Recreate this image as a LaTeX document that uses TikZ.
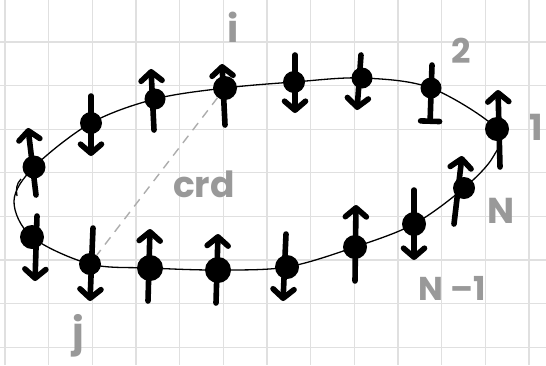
\documentclass[tikz,border=0pt]{standalone}
\usepackage{fontspec}
\newfontfamily\mainlevee{Poppins}
\usetikzlibrary{arrows.meta}

\begin{document}
\begin{tikzpicture}[x=1bp,y=-1bp]

% Couleurs
\definecolor{grille}{gray}{0.88}
\definecolor{grisT}{gray}{0.60}
\definecolor{grisP}{gray}{0.68}

\tikzset{
  spinfleche/.style={line width=5.6bp, line cap=round, line join=round,
    -{Straight Barb[length=9bp,width=21bp,line cap=round,line join=round]}},
  spinbarre/.style={line width=5.6bp, line cap=round,
    -{Bar[width=19bp,line cap=round]}},
  spindot/.style={circle, fill=black, inner sep=0pt, minimum size=#1},
  courbe/.style={black, line width=1.3bp},
  corde/.style={grisP, line width=1.4bp, dash pattern=on 9bp off 7bp},
  etiq/.style={text=grisT, inner sep=0pt, anchor=base,
    font=\mainlevee\bfseries\fontsize{#1}{#1}\selectfont}
}

% Cadre
\useasboundingbox (0,0) rectangle (546,365);
\fill[white] (0,0) rectangle (546,365);

% Quadrillage
\foreach \k in {0,...,12}
  \draw[grille, line width=1.2bp] ({5+43.67*\k},0) -- ({5+43.67*\k},365);
\foreach \k in {0,...,7}
  \draw[grille, line width=1.2bp] (0,{42+43.6*\k}) -- (546,{42+43.6*\k});

% Spins : numero/x/y/taille/queue/pointe/style
\foreach \n/\x/\y/\d/\ta/\tb/\ha/\hb/\st in {
   1/34/167/23/2/28/-6/-39/spinfleche,
   2/91/123/22/0/-27/0/33/spinfleche,
   3/155/99/21/-1/31/-4/-30/spinfleche,
   4/225/88/24/0/37/-3/-24/spinfleche,
   5/294/82/22/1/-27/1/31/spinfleche,
   6/362/78/21/-1/-23/-5/32/spinfleche,
   7/431/88/21/1/-23/-1/36/spinbarre,
   8/497/129/24/3/38/1/-39/spinfleche,
   9/32/237/24/5/-21/3/44/spinfleche,
  10/90/264/22/3/-36/0/37/spinfleche,
  11/150/268/26/-2/33/0/-39/spinfleche,
  12/218/270/26/-2/33/0/-36/spinfleche,
  13/287/267/24/-1/-33/-4/34/spinfleche,
  14/355/247/24/0/34/1/-42/spinfleche,
  15/414/224/24/0/-34/0/36/spinfleche,
  16/464/188/22/-10/36/-2/-32/spinfleche}
{
  \node[spindot=\d bp] (s\n) at (\x,\y) {};
  \draw[\st] ([shift={(\ta,\tb)}]s\n.center) -- ([shift={(\ha,\hb)}]s\n.center);
}

% Boucle
\coordinate (bordD) at (493,157);
\coordinate (bordG) at (14,201);
\draw[courbe] plot[smooth cycle, tension=0.55] coordinates {
  (s1.center) (s2.center) (s3.center) (s4.center) (s5.center) (s6.center)
  (s7.center) (s8.center) (bordD) (s16.center) (s15.center) (s14.center)
  (s13.center) (s12.center) (s11.center) (s10.center) (s9.center) (bordG)};
\draw[courbe] (21,179) .. controls (16,184) and (16,190) .. (17,196);

% Corde
\draw[corde] (s4) -- (s10);

% Etiquettes
\node[etiq=38bp] (lbl-i) at (233,42) {i};
\node[etiq=34bp] (lbl-deux) at (461,63) {2};
\node[etiq=36bp] (lbl-un) at (536,140) {1};
\node[etiq=36bp] (lbl-N) at (501,223) {N};
\node[etiq=33bp] (lbl-Nm) at (452,300) {N –1};
\node[etiq=36bp] (lbl-crd) at (204,197) {crd};
\node[etiq=40bp] (lbl-j) at (78,346) {j};

\end{tikzpicture}
\end{document}
